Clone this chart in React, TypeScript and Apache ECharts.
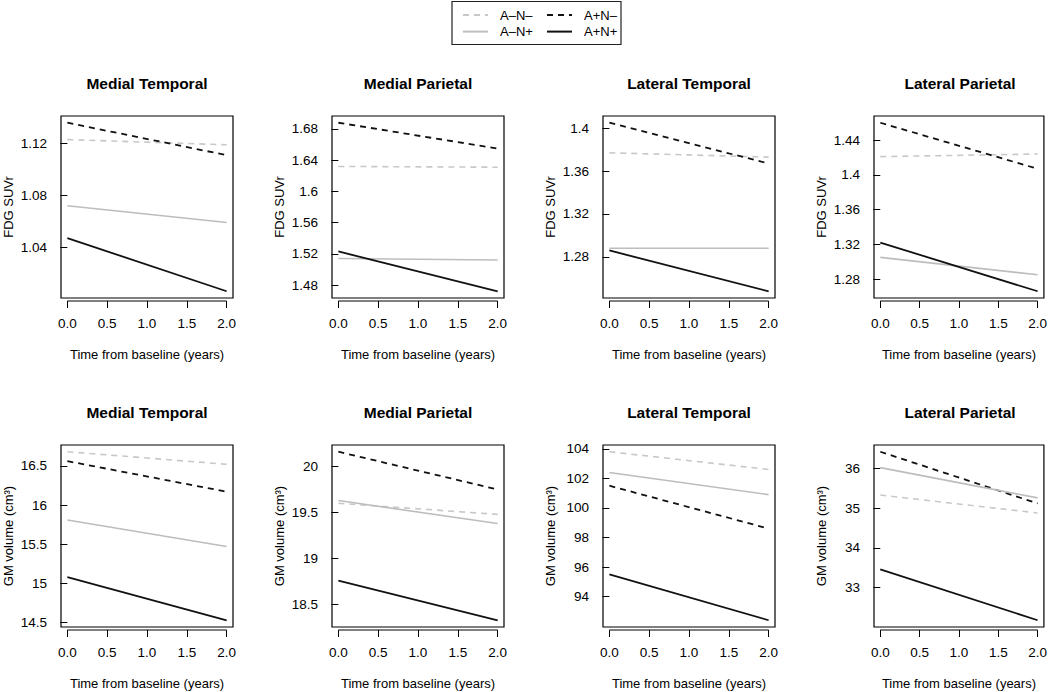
import React, { useEffect, useRef } from "react";
import * as echarts from "echarts";

// ---------------- data ----------------
const timePoints = [0, 2];
const xTicks = [0, 0.5, 1, 1.5, 2];
const regions = ["Medial Temporal", "Medial Parietal", "Lateral Temporal", "Lateral Parietal"];
const groupNames = ["A–N–", "A+N–", "A–N+", "A+N+"];
const fdgTitle = "FDG SUVr";
const gmTitle = "GM volume (cm³)";
const xTitle = "Time from baseline (years)";

// FDG SUVr [baseline, year 2] per region: MT, MP, LT, LP
const fdgANegNNeg = [[1.123, 1.119], [1.632, 1.631], [1.377, 1.373], [1.421, 1.424]];
const fdgAPosNNeg = [[1.136, 1.111], [1.688, 1.655], [1.405, 1.367], [1.46, 1.407]];
const fdgANegNPos = [[1.072, 1.059], [1.514, 1.512], [1.288, 1.288], [1.305, 1.285]];
const fdgAPosNPos = [[1.047, 1.006], [1.523, 1.472], [1.286, 1.248], [1.322, 1.266]];

// GM volume (cm3) [baseline, year 2] per region: MT, MP, LT, LP
const gmANegNNeg = [[16.68, 16.52], [19.6, 19.48], [103.8, 102.6], [35.33, 34.88]];
const gmAPosNNeg = [[16.56, 16.17], [20.16, 19.75], [101.5, 98.6], [36.42, 35.12]];
const gmANegNPos = [[15.81, 15.47], [19.63, 19.38], [102.4, 100.9], [36.02, 35.26]];
const gmAPosNPos = [[15.08, 14.53], [18.76, 18.33], [95.5, 92.4], [33.46, 32.18]];

// y tick labels per panel
const fdgTicks = [
  [1.04, 1.08, 1.12],
  [1.48, 1.52, 1.56, 1.6, 1.64, 1.68],
  [1.28, 1.32, 1.36, 1.4],
  [1.28, 1.32, 1.36, 1.4, 1.44],
];
const gmTicks = [
  [14.5, 15, 15.5, 16, 16.5],
  [18.5, 19, 19.5, 20],
  [94, 96, 98, 100, 102, 104],
  [33, 34, 35, 36],
];

// ---------------- styles / layout ----------------
const FONT = "'Liberation Sans', Arial, Helvetica, sans-serif";
const groupStyles = [
  { color: "#c8c8c8", type: [6, 5], width: 1.6 },
  { color: "#111111", type: [6, 5], width: 1.8 },
  { color: "#bdbdbd", type: "solid", width: 1.6 },
  { color: "#111111", type: "solid", width: 1.8 },
];
const colLefts = [61, 332, 603, 874];
const rowTops = [116, 445];
const GW = 172;
const GH = 182;
const X_OFFSET = 3;

const fmt = (v: number) => String(Math.round(v * 10000) / 10000);

export default function App() {
  const ref = useRef<HTMLDivElement>(null);

  useEffect(() => {
    if (!ref.current) return;
    const chart = echarts.init(ref.current, null, { renderer: "svg" });

    const rows = [
      { title: fdgTitle, groups: [fdgANegNNeg, fdgAPosNNeg, fdgANegNPos, fdgAPosNPos], ticks: fdgTicks },
      { title: gmTitle, groups: [gmANegNNeg, gmAPosNNeg, gmANegNPos, gmAPosNPos], ticks: gmTicks },
    ];

    const grids: any[] = [];
    const xAxes: any[] = [];
    const yAxes: any[] = [];
    const series: any[] = [];
    const titles: any[] = [];
    const yMins: number[] = [];

    rows.forEach((row, r) => {
      regions.forEach((region, c) => {
        const idx = r * 4 + c;
        const vals: number[] = [];
        row.groups.forEach((g) => vals.push(...g[c]));
        const dmin = Math.min(...vals);
        const dmax = Math.max(...vals);
        const pad = 0.04 * (dmax - dmin);
        const ymin = dmin - pad;
        const ymax = dmax + pad;
        yMins.push(ymin);

        grids.push({
          left: colLefts[c],
          top: rowTops[r],
          width: GW,
          height: GH,
          show: true,
          borderColor: "#000",
          borderWidth: 1.2,
          backgroundColor: "transparent",
        });
        titles.push({
          text: region,
          left: colLefts[c] + GW / 2,
          top: rowTops[r] - 41,
          textAlign: "center",
          padding: 0,
          textStyle: { fontSize: 15.5, fontWeight: "bold", color: "#000", fontFamily: FONT },
        });
        xAxes.push({
          gridIndex: idx,
          type: "value",
          min: -0.08,
          max: 2.08,
          offset: X_OFFSET,
          axisLine: { show: false },
          splitLine: { show: false },
          axisTick: { show: true, length: 7, customValues: xTicks, lineStyle: { color: "#000", width: 1 } },
          axisLabel: {
            customValues: xTicks,
            formatter: (v: number) => v.toFixed(1),
            margin: 15,
            fontSize: 13.5,
            color: "#000",
            fontFamily: FONT,
          },
          name: xTitle,
          nameLocation: "middle",
          nameGap: 47,
          nameTextStyle: { fontSize: 13, color: "#000", fontFamily: FONT },
        });
        yAxes.push({
          gridIndex: idx,
          type: "value",
          min: ymin,
          max: ymax,
          axisLine: { show: false },
          splitLine: { show: false },
          axisTick: { show: true, length: 7, customValues: row.ticks[c], lineStyle: { color: "#000", width: 1 } },
          axisLabel: {
            customValues: row.ticks[c],
            formatter: fmt,
            margin: 14,
            fontSize: 13.5,
            color: "#000",
            fontFamily: FONT,
          },
          name: row.title,
          nameLocation: "middle",
          nameGap: 46,
          nameRotate: 90,
          nameTextStyle: { fontSize: 13, color: "#000", fontFamily: FONT },
        });
        row.groups.forEach((g, gi) => {
          series.push({
            name: groupNames[gi],
            type: "line",
            xAxisIndex: idx,
            yAxisIndex: idx,
            symbol: "none",
            silent: true,
            data: timePoints.map((t, k) => [t, g[c][k]]),
            lineStyle: { ...groupStyles[gi] },
            itemStyle: { color: groupStyles[gi].color },
          });
        });
      });
    });

    const legendCommon = {
      orient: "vertical",
      top: 8.5,
      padding: 0,
      itemWidth: 25,
      itemHeight: 14,
      itemGap: 3.6,
      selectedMode: false,
      itemStyle: { opacity: 0, borderWidth: 0 },
      textStyle: { fontSize: 13, color: "#000", fontFamily: FONT, padding: [0, 0, 0, 7] },
    };

    const legendBox = {
      type: "rect",
      shape: { x: 452, y: 1.5, width: 169, height: 43 },
      style: { fill: "none", stroke: "#222", lineWidth: 1.2 },
      silent: true,
    };

    chart.setOption({
      animation: false,
      textStyle: { fontFamily: FONT },
      title: titles,
      grid: grids,
      xAxis: xAxes,
      yAxis: yAxes,
      series,
      legend: [
        { ...legendCommon, left: 462, data: [groupNames[0], groupNames[2]] },
        { ...legendCommon, left: 546, data: [groupNames[1], groupNames[3]] },
      ],
      graphic: [legendBox],
    });

    // R-style x axis line from first to last tick
    const axisLines: any[] = [];
    for (let i = 0; i < 8; i++) {
      const p0 = chart.convertToPixel({ gridIndex: i } as any, [xTicks[0], yMins[i]]) as number[];
      const p1 = chart.convertToPixel({ gridIndex: i } as any, [xTicks[xTicks.length - 1], yMins[i]]) as number[];
      if (!p0 || !p1) continue;
      axisLines.push({
        type: "line",
        shape: { x1: p0[0], y1: p0[1] + X_OFFSET, x2: p1[0], y2: p1[1] + X_OFFSET },
        style: { stroke: "#000", lineWidth: 1 },
        silent: true,
      });
    }
    chart.setOption({ graphic: [legendBox, ...axisLines] });

    return () => chart.dispose();
  }, []);

  return (
    <div
      ref={ref}
      style={{ position: "fixed", left: 0, top: 0, width: 1050, height: 692, background: "#fff" }}
    />
  );
}
